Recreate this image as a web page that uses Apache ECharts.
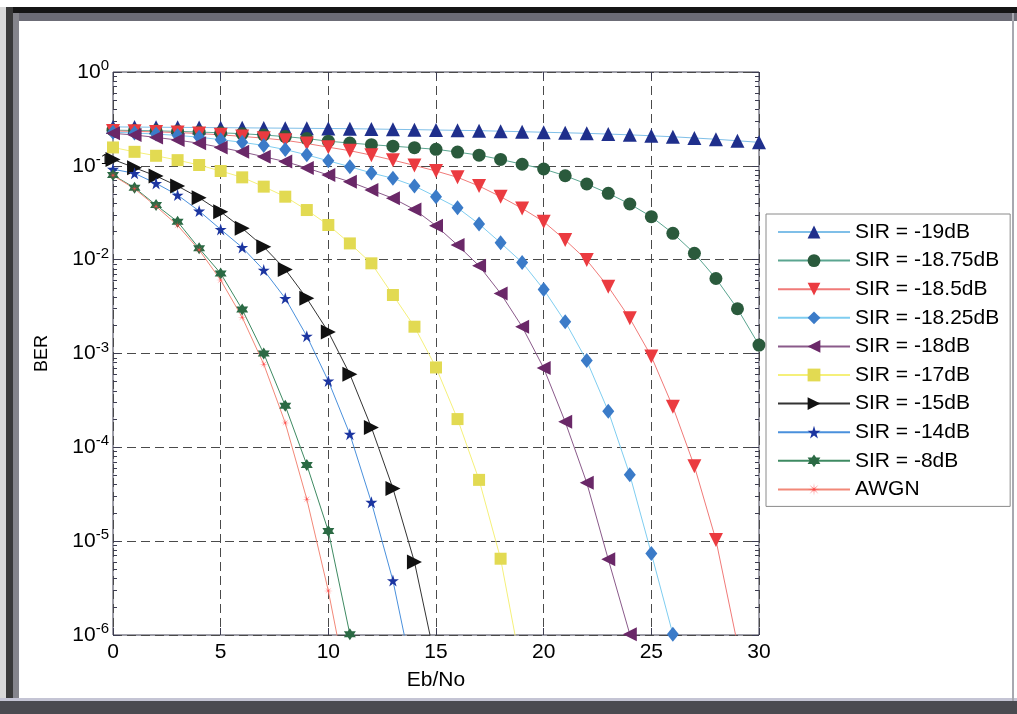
<!DOCTYPE html>
<html>
<head>
<meta charset="utf-8">
<script src="https://cdn.jsdelivr.net/npm/echarts@6.0.0/dist/echarts.min.js"></script>
<style>
html, body { margin: 0; padding: 0; background: #fff; }
#chart { width: 1017px; height: 714px; }
</style>
</head>
<body>
<div id="chart"></div>
<script>
// Eb/No (dB) sample points
var ebNo = [0,1,2,3,4,5,6,7,8,9,10,11,12,13,14,15,16,17,18,19,20,21,22,23,24,25,26,27,28,29,30];
// BER, one list per SIR
var sir19 = [0.26,0.259,0.258,0.257,0.256,0.255,0.254,0.253,0.252,0.251,0.25,0.249,0.247,0.245,0.243,0.241,0.239,0.237,0.234,0.231,0.228,0.225,0.222,0.218,0.214,0.209,0.204,0.198,0.192,0.185,0.178];
var sir1875 = [0.24,0.238,0.236,0.233,0.229,0.225,0.22,0.213,0.205,0.195,0.183,0.175,0.168,0.162,0.156,0.15,0.14,0.13,0.117,0.104,0.0925,0.0784,0.064,0.0509,0.0392,0.0287,0.0191,0.0117,0.0063,0.003,0.00123];
var sir185 = [0.235,0.233,0.23,0.226,0.221,0.214,0.206,0.197,0.187,0.173,0.158,0.145,0.13,0.115,0.101,0.088,0.0754,0.0609,0.0469,0.0352,0.0254,0.0162,0.0099,0.00514,0.00237,0.00093,0.00027,0.000063,0.0000103,0.0000008];
var sir1825 = [0.228,0.224,0.218,0.211,0.202,0.19,0.178,0.165,0.149,0.131,0.113,0.098,0.084,0.0736,0.061,0.0469,0.0357,0.024,0.0151,0.00935,0.00482,0.00218,0.00084,0.000243,0.000051,0.0000074,0.00000102];
var sir18 = [0.222,0.213,0.201,0.188,0.174,0.157,0.141,0.125,0.111,0.0948,0.0798,0.0677,0.0552,0.0451,0.0342,0.023,0.0143,0.0086,0.00437,0.00193,0.0007,0.000187,0.000042,0.0000064,0.00000102];
var sir17 = [0.157,0.141,0.128,0.115,0.102,0.0881,0.0754,0.06,0.0469,0.0338,0.0234,0.0149,0.00914,0.0042,0.00193,0.00071,0.0002,0.000045,0.0000065,0.0000004];
var sir15 = [0.117,0.0955,0.0779,0.0609,0.0457,0.0324,0.0216,0.0137,0.00788,0.00387,0.0017,0.0006,0.000163,0.0000365,0.000006,0.0000005];
var sir14 = [0.092,0.0832,0.065,0.0488,0.033,0.021,0.0135,0.00774,0.00387,0.00153,0.00051,0.000138,0.000026,0.0000038,0.0000003];
var sir8 = [0.0798,0.0584,0.0382,0.0254,0.0132,0.00714,0.00295,0.001,0.000277,0.000065,0.0000128,0.00000102];
var awgn = [0.079,0.057,0.037,0.0232,0.0127,0.00606,0.00243,0.00077,0.000182,0.000028,0.00000295,0.0000002];

var seriesNames = ['SIR = -19dB','SIR = -18.75dB','SIR = -18.5dB','SIR = -18.25dB','SIR = -18dB','SIR = -17dB','SIR = -15dB','SIR = -14dB','SIR = -8dB','AWGN'];
// log axis minor tick positions (2..9 per decade)
var minorTicks = [];
for (var d = -6; d < 0; d++) {
  for (var m = 2; m <= 9; m++) minorTicks.push(m * Math.pow(10, d));
}

var FONT = 'Liberation Sans';
var AXC = '#3c3c50';
var GRIDC = '#4a4a4a';

var pentagram = 'path://M50 0 L61.2 34.5 L97.6 34.5 L68.2 55.9 L79.4 90.5 L50 69.1 L20.6 90.5 L31.8 55.9 L2.4 34.5 L38.8 34.5 Z';
var hexagram = 'path://M50 0 L64.4 25 L93.3 25 L78.9 50 L93.3 75 L64.4 75 L50 100 L35.6 75 L6.7 75 L21.1 50 L6.7 25 L35.6 25 Z';
var asterisk = 'path://M50 0 L52.7 43.5 L85.4 14.6 L56.5 47.3 L100 50 L56.5 52.7 L85.4 85.4 L52.7 56.5 L50 100 L47.3 56.5 L14.6 85.4 L43.5 52.7 L0 50 L43.5 47.3 L14.6 14.6 L47.3 43.5 Z';

function mkSeries(name, vals, symbol, size, rot, fill, line) {
  return {
    name: name,
    type: 'line',
    data: vals.map(function (v, i) { return [ebNo[i], v]; }),
    symbol: symbol,
    symbolSize: size,
    symbolRotate: rot,
    itemStyle: { color: fill, borderWidth: 0 },
    lineStyle: { color: line, width: 1 },
    emphasis: { disabled: true },
    clip: true
  };
}

var chart = echarts.init(document.getElementById('chart'));
chart.setOption({
  animation: false,
  backgroundColor: '#ffffff',
  grid: {
    left: 113, top: 72, width: 646, height: 563,
    show: true, borderColor: AXC, borderWidth: 1, backgroundColor: '#fff'
  },
  legend: {
    orient: 'vertical',
    left: 766, top: 214,
    padding: [7, 11, 6, 11],
    itemGap: 6.6,
    itemWidth: 72,
    itemHeight: 16,
    backgroundColor: '#fff',
    borderColor: '#8a8a8a',
    borderWidth: 1,
    selectedMode: false,
    textStyle: { fontFamily: FONT, fontSize: 21, color: '#000', lineHeight: 22 },
    data: seriesNames
  },
  xAxis: [{
    type: 'value', min: 0, max: 30, interval: 5, position: 'bottom',
    axisLine: { show: false },
    axisTick: { inside: true, length: 7, lineStyle: { color: AXC } },
    axisLabel: { margin: 7, fontFamily: FONT, fontSize: 21, color: '#000' },
    splitLine: { show: true, lineStyle: { color: GRIDC, width: 1, type: [9, 5] } },
    name: 'Eb/No', nameLocation: 'middle', nameGap: 35,
    nameTextStyle: { fontFamily: FONT, fontSize: 21, color: '#000' }
  }, {
    type: 'value', min: 0, max: 30, interval: 5, position: 'top',
    axisLine: { show: false },
    axisTick: { inside: true, length: 7, lineStyle: { color: AXC } },
    axisLabel: { show: false },
    splitLine: { show: false }
  }],
  yAxis: [{
    type: 'log', logBase: 10, min: 1e-6, max: 1, position: 'left',
    axisLine: { show: false },
    axisTick: { inside: true, length: 7, lineStyle: { color: AXC } },
    axisLabel: {
      margin: 4,
      formatter: function (v) {
        return '{b|10}{s|' + Math.round(Math.log10(v)) + '}';
      },
      rich: {
        b: { fontFamily: FONT, fontSize: 21, color: '#000', lineHeight: 21 },
        s: { fontFamily: FONT, fontSize: 15, color: '#000', lineHeight: 15, padding: [0, 0, 12, 0] }
      }
    },
    splitLine: { show: true, lineStyle: { color: GRIDC, width: 1, type: [9, 5] } },
    name: 'BER', nameLocation: 'middle', nameGap: 62, nameRotate: 90,
    nameTextStyle: { fontFamily: FONT, fontSize: 18, color: '#000' }
  }, {
    type: 'log', logBase: 10, min: 1e-6, max: 1, position: 'left',
    axisLine: { show: false },
    axisTick: { inside: true, length: 4, customValues: minorTicks, lineStyle: { color: AXC } },
    axisLabel: { show: false },
    splitLine: { show: false }
  }, {
    type: 'log', logBase: 10, min: 1e-6, max: 1, position: 'right',
    axisLine: { show: false },
    axisTick: { inside: true, length: 7, lineStyle: { color: AXC } },
    axisLabel: { show: false },
    splitLine: { show: false }
  }, {
    type: 'log', logBase: 10, min: 1e-6, max: 1, position: 'right',
    axisLine: { show: false },
    axisTick: { inside: true, length: 4, customValues: minorTicks, lineStyle: { color: AXC } },
    axisLabel: { show: false },
    splitLine: { show: false }
  }],
  series: [
    mkSeries(seriesNames[0], sir19, 'triangle', 14, 0, '#1f2f8c', '#7fbfe8'),
    mkSeries(seriesNames[1], sir1875, 'circle', 13, 0, '#2a5a3c', '#5aa590'),
    mkSeries(seriesNames[2], sir185, 'triangle', 14, 180, '#eb3b40', '#f07a78'),
    mkSeries(seriesNames[3], sir1825, 'diamond', [12, 15], 0, '#3b7bc8', '#7fcdf0'),
    mkSeries(seriesNames[4], sir18, 'triangle', 14, 90, '#6a2868', '#8a5a8a'),
    mkSeries(seriesNames[5], sir17, 'rect', 12, 0, '#e2da52', '#f5f07a'),
    mkSeries(seriesNames[6], sir15, 'triangle', 15, -90, '#111111', '#333333'),
    mkSeries(seriesNames[7], sir14, pentagram, 12, 0, '#1c35a0', '#4a90dc'),
    mkSeries(seriesNames[8], sir8, hexagram, 12, 0, '#2b6a44', '#3e8a62'),
    mkSeries(seriesNames[9], awgn, asterisk, 9, 0, '#ff4a4a', '#f28878')
  ],
  // window frame around the figure
  graphic: [
    { type: 'rect', silent: true, shape: { x: 0, y: 7, width: 1017, height: 6 }, style: { fill: '#151515' } },
    { type: 'rect', silent: true, shape: { x: 0, y: 13, width: 1017, height: 8 }, style: { fill: '#6c6c76' } },
    { type: 'rect', silent: true, shape: { x: 0, y: 7, width: 6, height: 707 }, style: { fill: '#d8d8d8' } },
    { type: 'rect', silent: true, shape: { x: 6, y: 7, width: 7, height: 707 }, style: { fill: '#3a3a3a' } },
    { type: 'rect', silent: true, shape: { x: 13, y: 13, width: 6, height: 701 }, style: { fill: '#85858c' } },
    { type: 'rect', silent: true, shape: { x: 0, y: 698, width: 1017, height: 3 }, style: { fill: '#c4c4d4' } },
    { type: 'rect', silent: true, shape: { x: 0, y: 701, width: 1017, height: 13 }, style: { fill: '#4a4a50' } },
    { type: 'rect', silent: true, shape: { x: 1012, y: 13, width: 2, height: 688 }, style: { fill: '#a8a8b0' } }
  ]
});
</script>
</body>
</html>
